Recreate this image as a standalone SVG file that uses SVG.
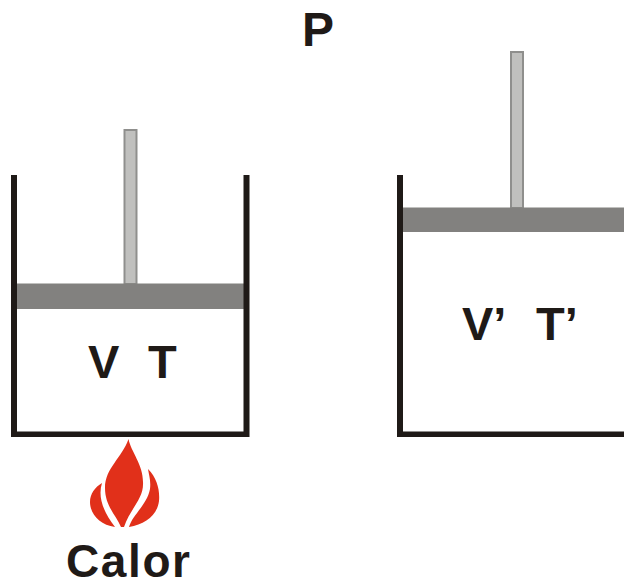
<svg xmlns="http://www.w3.org/2000/svg" width="624" height="587" viewBox="0 0 624 587">
<style>
.wall{fill:#1f1a17}
.piston{fill:#82817f}
.rod{fill:#c0c0be;stroke:#8f8f8d;stroke-width:2}
.flame{fill:#e1301a}
text{font-family:"Liberation Sans",Arial,sans-serif;font-weight:bold;fill:#1f1a17}
</style>
<rect width="624" height="587" fill="#fff"/>
<g id="cylinder-left">
<rect class="rod" x="124.500" y="130" width="12" height="154"/>
<rect class="piston" x="17" y="283.500" width="227" height="25.500"/>
<path class="wall" d="M11 175H17V431.500H243.500V175H249.500V437H11Z"/>
<text x="88" y="378" font-size="47">V</text>
<text x="148" y="378" font-size="47">T</text>
</g>
<g id="cylinder-right">
<rect class="rod" x="511" y="52" width="12" height="156"/>
<rect class="piston" x="403" y="207.500" width="221" height="24.500"/>
<path class="wall" d="M397 175H403V431.500H624V437H397Z"/>
<text x="462" y="340" font-size="47">V’</text>
<text x="536" y="340" font-size="47">T’</text>
</g>
<g id="flame">
<path class="flame" d="M128.500 439C131 452 143 464 143 482C144 499 131 507 124 527L121 527C116 515 105 506 105 488C105 468 122 458 128.500 439Z"/>
<path class="flame" d="M148 469C157 478 160 490 159 501C157 516 145 524 129 527C133 514 147 505 150 489C151 481 149 475 148 469Z"/>
<path class="flame" d="M102 483C98 496 102 510 115 527C100 525 90 514 90 502C90 494 95 487 102 483Z"/>
</g>
<g id="label-p"><text x="302" y="46" font-size="48">P</text></g>
<g id="label-calor"><text x="66" y="577" font-size="46" textLength="124">Calor</text></g>
<g id="connectors"/>
</svg>
